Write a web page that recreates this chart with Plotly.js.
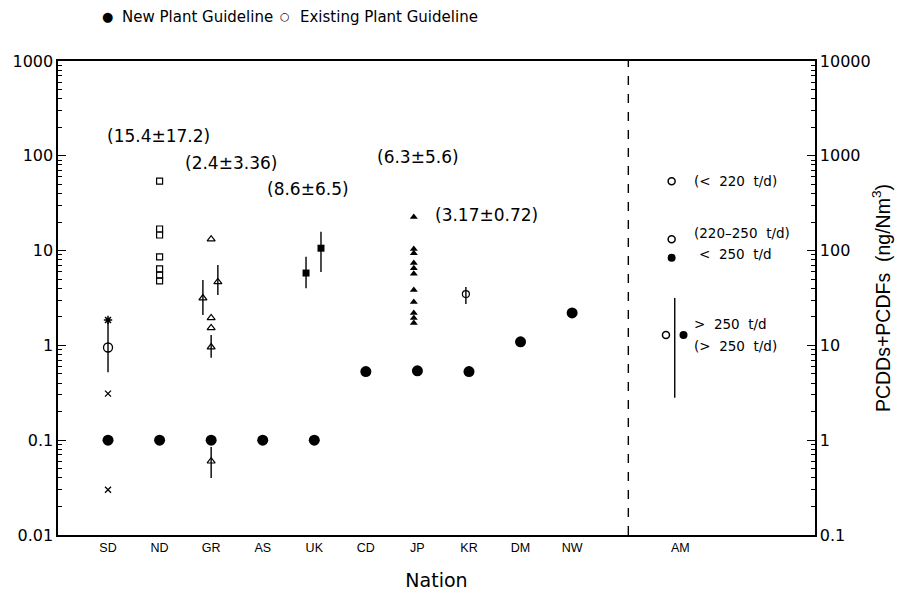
<!DOCTYPE html>
<html>
<head>
<meta charset="utf-8">
<script src="https://cdn.plot.ly/plotly-3.0.1.min.js"></script>
<style>html,body{margin:0;padding:0;background:#fff;}#chart{width:913px;height:608px;}</style>
</head>
<body>
<div id="chart"></div>
<script>
// ---- categories / tick labels ----
const categories = ['SD','ND','GR','AS','UK','CD','JP','KR','DM','NW','AM'];
const catPos = [1,2,3,4,5,6,7,8,9,10,12.1];
const leftTicks = [0.01,0.1,1,10,100,1000];
const leftTickText = ['0.01','0.1','1','10','100','1000'];
const rightTicks = [0.1,1,10,100,1000,10000];
const rightTickText = ['0.1','1','10','100','1000','10000'];

// ---- New Plant Guideline (filled circles) ----
const newNations = ['SD','ND','GR','AS','UK','CD','JP','KR','DM','NW'];
const newValues  = [0.1, 0.1, 0.1, 0.1, 0.1, 0.53, 0.54, 0.53, 1.09, 2.2];

// ---- AM guidelines ----
const amOpenValues = [54, 13.2];
const amOpenLabels = ['(<\u00a0\u00a0220\u00a0\u00a0t/d)', '(220\u2013250\u00a0\u00a0t/d)'];
const amNewValues = [8.4];
const amNewLabels = ['<\u00a0\u00a0250\u00a0\u00a0t/d'];
const amLargeOpen = [1.29];
const amLargeNew = [1.29];
const amLargeRange = [0.28, 3.16];
const amLargeLabels = ['>\u00a0\u00a0250\u00a0\u00a0t/d', '(>\u00a0\u00a0250\u00a0\u00a0t/d)'];

// ---- measured data ----
const sdCross = [0.31, 0.03];
const sdStar = [1.85];
const sdMean = 0.95, sdLow = 0.52, sdHigh = 1.85;

const ndSquares = [54, 16.9, 14.6, 8.6, 6.4, 5.5, 4.8];

const grTriangles = [13.2, 1.95, 1.53];
const grErrMeans = [3.16, 4.67, 0.96, 0.06];
const grErrHigh  = [4.9, 7.05, 1.29, 0.085];
const grErrLow   = [2.09, 3.4, 0.74, 0.040];
const grErrOffset = [-0.16, 0.13, 0, 0];

const ukSquares = [5.8, 10.6];
const ukHigh = [8.6, 15.8];
const ukLow = [4.0, 5.95];
const ukOffset = [-0.16, 0.13];

const jpTriangles = [22.6, 10.4, 9.4, 7.4, 6.5, 5.7, 3.84, 2.87, 2.2, 1.95, 1.72];

const krMean = 3.48, krHigh = 4.13, krLow = 2.73;

const meanLabels = ['(15.4\u00b117.2)', '(2.4\u00b13.36)', '(8.6\u00b16.5)', '(6.3\u00b15.6)', '(3.17\u00b10.72)'];
const meanLabelNation = ['ND', 'GR', 'UK', 'JP', 'KR'];
const meanLabelY = [162, 84, 44.7, 97, 23.8];
const meanLabelDx = [-0.03, 0.39, -0.12, 0.01, 0.33];

// ---- helpers ----
const pos = n => catPos[categories.indexOf(n)];
const rep = (v, k) => Array(k).fill(v);
const K = '#000';
const FONT = 'DejaVu Sans, Verdana, sans-serif';
const errStyle = {type:'data', symmetric:false, color:K, thickness:1.4, width:0};

const traces = [];
traces.push({x:newNations.map(pos), y:newValues, mode:'markers', type:'scatter',
  marker:{symbol:'circle', size:11, color:K}, hoverinfo:'skip'});
// SD
traces.push({x:[pos('SD')], y:[sdMean], mode:'markers', type:'scatter',
  marker:{symbol:'circle-open', size:9, color:K, line:{width:1.3}},
  error_y:Object.assign({array:[sdHigh-sdMean], arrayminus:[sdMean-sdLow]}, errStyle)});
traces.push({x:rep(pos('SD'), sdCross.length), y:sdCross, mode:'markers', type:'scatter',
  marker:{symbol:'x-thin-open', size:6, color:K, line:{width:1.3, color:K}}});
traces.push({x:[pos('SD')], y:sdStar, mode:'markers', type:'scatter',
  marker:{symbol:'asterisk-open', size:7, color:K, line:{width:1.5, color:K}}});
// ND
traces.push({x:rep(pos('ND'), ndSquares.length), y:ndSquares, mode:'markers', type:'scatter',
  marker:{symbol:'square-open', size:6, color:K, line:{width:1.2}}});
// GR
traces.push({x:rep(pos('GR'), grTriangles.length), y:grTriangles, mode:'markers', type:'scatter',
  marker:{symbol:'triangle-up-open', size:7, color:K, line:{width:1.2}}});
traces.push({x:grErrOffset.map(d => pos('GR') + d), y:grErrMeans, mode:'markers', type:'scatter',
  marker:{symbol:'triangle-up-open', size:7, color:K, line:{width:1.2}},
  error_y:Object.assign({array:grErrHigh.map((h,i)=>h-grErrMeans[i]), arrayminus:grErrLow.map((l,i)=>grErrMeans[i]-l)}, errStyle)});
// UK
traces.push({x:ukOffset.map(d => pos('UK') + d), y:ukSquares, mode:'markers', type:'scatter',
  marker:{symbol:'square', size:7, color:K},
  error_y:Object.assign({array:ukHigh.map((h,i)=>h-ukSquares[i]), arrayminus:ukLow.map((l,i)=>ukSquares[i]-l)}, errStyle)});
// JP
traces.push({x:rep(pos('JP') - 0.07, jpTriangles.length), y:jpTriangles, mode:'markers', type:'scatter',
  marker:{symbol:'triangle-up', size:7, color:K}});
// KR
traces.push({x:[pos('KR') - 0.06], y:[krMean], mode:'markers', type:'scatter',
  marker:{symbol:'circle-open', size:7, color:K, line:{width:1.2}},
  error_y:Object.assign({array:[krHigh-krMean], arrayminus:[krMean-krLow]}, errStyle)});
// AM
traces.push({x:rep(pos('AM') - 0.17, amOpenValues.length), y:amOpenValues, mode:'markers', type:'scatter',
  marker:{symbol:'circle-open', size:7, color:K, line:{width:1.5}}});
traces.push({x:[pos('AM') - 0.17], y:amNewValues, mode:'markers', type:'scatter',
  marker:{symbol:'circle', size:8, color:K}});
traces.push({x:[pos('AM') - 0.28], y:amLargeOpen, mode:'markers', type:'scatter',
  marker:{symbol:'circle-open', size:7, color:K, line:{width:1.5}}});
traces.push({x:[pos('AM') + 0.06], y:amLargeNew, mode:'markers', type:'scatter',
  marker:{symbol:'circle', size:8, color:K}});
traces.push({x:[pos('AM') - 0.11, pos('AM') - 0.11], y:amLargeRange, mode:'lines', type:'scatter',
  line:{color:K, width:1.4}});
// invisible trace to anchor right axis
traces.push({x:[pos('SD')], y:[1], yaxis:'y2', mode:'markers', marker:{opacity:0}, hoverinfo:'skip'});

const minorVals = (lo, hi) => { const a=[]; for (let e=lo; e<hi; e++) for (let m=2; m<10; m++) a.push(m*Math.pow(10,e)); return a; };

const annotations = [];
meanLabels.forEach((t,i) => annotations.push({x:pos(meanLabelNation[i]) + meanLabelDx[i], y:Math.log10(meanLabelY[i]),
  text:t, showarrow:false, font:{family:FONT, size:17, color:K}}));
const amLabX = pos('AM') + 0.22;
const amFont = {family:FONT, size:13.5, color:K};
amOpenLabels.forEach((t,i) => annotations.push({x:amLabX, y:Math.log10(amOpenValues[i]) + (i===1?0.07:0), text:t,
  showarrow:false, xanchor:'left', font:amFont}));
amNewLabels.forEach((t,i) => annotations.push({x:amLabX + 0.1, y:Math.log10(amNewValues[i]) + 0.04, text:t,
  showarrow:false, xanchor:'left', font:amFont}));
annotations.push({x:amLabX, y:Math.log10(amLargeNew[0]) + 0.12, text:amLargeLabels[0], showarrow:false, xanchor:'left', font:amFont});
annotations.push({x:amLabX, y:Math.log10(amLargeNew[0]) - 0.12, text:amLargeLabels[1], showarrow:false, xanchor:'left', font:amFont});
// legend
const legY = 1.093;
annotations.push({xref:'paper', yref:'paper', x:0.066, y:legY, xanchor:'center', yanchor:'middle', text:'\u25cf', showarrow:false, font:{family:FONT, size:13, color:K}});
annotations.push({xref:'paper', yref:'paper', x:0.082, y:legY, yanchor:'middle', xanchor:'left', text:'New Plant Guideline', showarrow:false, font:{family:FONT, size:15, color:K}});
annotations.push({xref:'paper', yref:'paper', x:0.300, y:legY, xanchor:'center', yanchor:'middle', text:'\u25cb', showarrow:false, font:{family:FONT, size:11, color:K}});
annotations.push({xref:'paper', yref:'paper', x:0.317, y:legY, yanchor:'middle', xanchor:'left', text:'Existing Plant Guideline', showarrow:false, font:{family:FONT, size:15, color:K}});

const layout = {
  width:913, height:608,
  margin:{l:58, r:98, t:61, b:73},
  paper_bgcolor:'#fff', plot_bgcolor:'#fff',
  showlegend:false,
  font:{family:FONT, color:K},
  xaxis:{range:[0.03, 14.71], tickmode:'array', tickvals:catPos, ticktext:categories, ticks:'',
    showline:true, mirror:true, linecolor:K, linewidth:1.6, showgrid:false, zeroline:false,
    tickfont:{family:'Liberation Sans, Arial, sans-serif', size:12.5}, title:{text:'Nation', font:{size:19}, standoff:20}},
  yaxis:{type:'log', range:[-2,3], tickmode:'array', tickvals:leftTicks, ticktext:leftTickText,
    ticks:'inside', ticklen:8, tickwidth:1.3, tickcolor:K, showline:true, linecolor:K, linewidth:1.6,
    showgrid:false, zeroline:false, tickfont:{size:16}, ticklabelstandoff:0,
    minor:{tickmode:'array', tickvals:minorVals(-2,3), ticks:'inside', ticklen:4, tickwidth:1, tickcolor:K, showgrid:false}},
  yaxis2:{type:'log', range:[-1,4], overlaying:'y', side:'right', tickmode:'array', tickvals:rightTicks, ticktext:rightTickText,
    ticks:'inside', ticklen:8, tickwidth:1.3, tickcolor:K, showline:true, linecolor:K, linewidth:1.6,
    showgrid:false, zeroline:false, tickfont:{size:16}, ticklabelstandoff:0,
    minor:{tickmode:'array', tickvals:minorVals(-1,4), ticks:'inside', ticklen:4, tickwidth:1, tickcolor:K, showgrid:false},
    title:{text:'PCDDs+PCDFs  (ng/Nm<sup>3</sup>)', font:{family:'Liberation Sans, Arial, sans-serif', size:19.5}, standoff:6}},
  shapes:[{type:'line', xref:'x', yref:'paper', x0:11.09, x1:11.09, y0:0, y1:1, line:{color:K, width:1.4, dash:'dash'}}],
  annotations:annotations
};
Plotly.newPlot('chart', traces, layout, {displayModeBar:false, staticPlot:true});
</script>
</body>
</html>
